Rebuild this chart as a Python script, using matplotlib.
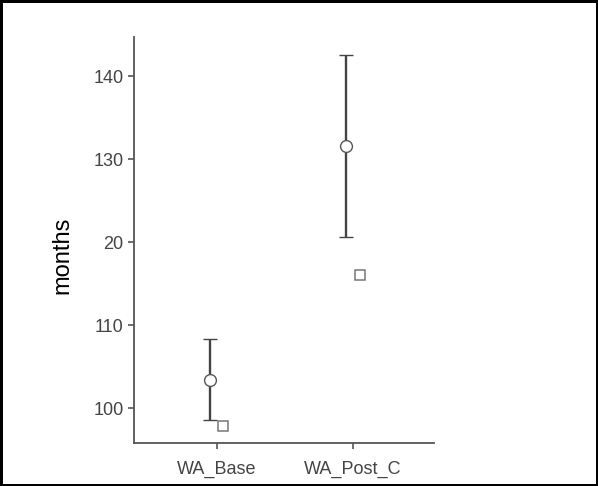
import matplotlib
matplotlib.use("Agg")
import matplotlib.pyplot as plt
import numpy as np

plt.rcParams['font.family'] = ['Liberation Sans', 'DejaVu Sans']

# data
groups = ['WA_Base', 'WA_Post_C']
means = [103.4, 131.6]
upper = [108.4, 142.6]
lower = [98.6, 120.6]
other = [97.9, 116.0]
ytick_vals = [100, 110, 120, 130, 140]
ytick_labels = ['100', '110', '20', '130', '140']

x = np.arange(len(groups))
means = np.array(means)
err = [means - np.array(lower), np.array(upper) - means]

fig = plt.figure(figsize=(5.98, 4.86), dpi=100, edgecolor='black', linewidth=2.5)
ax = fig.add_axes([0.224, 0.0885, 0.502, 0.836])

ax.errorbar(x - 0.05, means, yerr=err, fmt='o', color='#444444', ecolor='#444444',
            elinewidth=1.7, capsize=5, capthick=1.7, markersize=8.5,
            markerfacecolor='white', markeredgecolor='#555555', markeredgewidth=1.0, zorder=3)
ax.plot(x + 0.05, other, 's', markersize=7, markerfacecolor='white',
        markeredgecolor='#777777', markeredgewidth=1.1, linestyle='none', zorder=3)

ax.set_xlim(-0.608, 1.598)
ax.set_ylim(95.8, 144.8)
ax.set_xticks(x)
ax.set_xticklabels(groups)
ax.set_yticks(ytick_vals)
ax.set_yticklabels(ytick_labels)
ax.tick_params(colors='#555555', labelcolor='#444444', labelsize=13, length=4, width=1.2)
ax.tick_params(axis='x', pad=9)
ax.set_ylabel('months', fontsize=17, color='black')
ax.yaxis.set_label_coords(-0.2, 0.463)

for s in ['top', 'right']:
    ax.spines[s].set_visible(False)
for s in ['left', 'bottom']:
    ax.spines[s].set_color('#555555')
    ax.spines[s].set_linewidth(1.3)

fig.savefig('out.png', dpi=100, edgecolor=fig.get_edgecolor())
